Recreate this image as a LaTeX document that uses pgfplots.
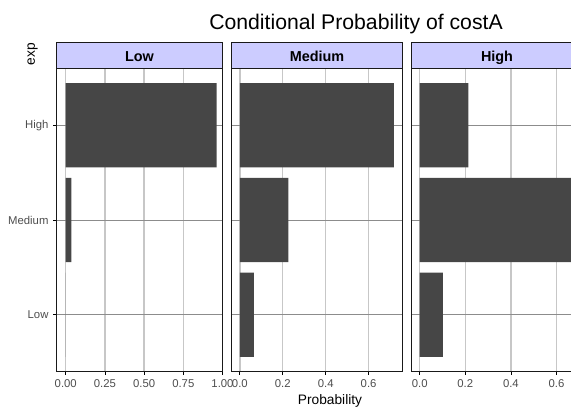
\documentclass[border=0pt]{standalone}
\usepackage{pgfplots}
\pgfplotsset{compat=1.18}
\usepackage{fontspec}
\setmainfont{Liberation Sans}
\definecolor{barc}{RGB}{70,70,70}
\definecolor{stripc}{RGB}{204,204,255}
\definecolor{tickc}{RGB}{77,77,77}
\pgfplotsset{
  panel/.style={
    scale only axis, height=227.25pt, anchor=south west,
    ymin=0.4, ymax=3.6, ytick={1,2,3},
    xbar, bar width=0.89, bar shift=0pt,
    xmajorgrids, ymajorgrids,
    x grid style={color=black!22, line width=1pt},
    y grid style={color=black!45, line width=0.5pt},
    axis line style={line width=1pt, color=black!90},
    tick style={color=black, line width=0.6pt},
    tick align=outside, major tick length=2.5pt,
    xtick pos=bottom, ytick pos=left,
    ticklabel style={font=\fontsize{8.5}{10}\selectfont, color=tickc},
    /pgf/number format/assume math mode=true,
  },
}
\begin{document}
\begin{tikzpicture}
% Panel 1: costA = Low
\begin{axis}[panel, name=p1, at={(42.375pt,26.625pt)}, width=124.5pt,
  xmin=-0.059, xmax=1.0,
  xtick={0,0.25,0.5,0.75,1}, xticklabels={0.00,0.25,0.50,0.75,1.00},
  yticklabels={Low,Medium,High}]
\addplot[fill=barc, draw=none] coordinates {(0,1) (0.036,2) (0.962,3)};
\end{axis}
% Panel 2: costA = Medium
\begin{axis}[panel, name=p2, at={(173.625pt,26.625pt)}, width=128.25pt,
  xmin=-0.039, xmax=0.758,
  xtick={0,0.2,0.4,0.6}, xticklabels={0.0,0.2,0.4,0.6},
  yticklabels={}, ytick style={draw=none}]
\addplot[fill=barc, draw=none] coordinates {(0.065,1) (0.226,2) (0.718,3)};
\end{axis}
% Panel 3: costA = High
\begin{axis}[panel, name=p3, at={(308.625pt,26.625pt)}, width=128.25pt,
  xmin=-0.036, xmax=0.714,
  xtick={0,0.2,0.4,0.6}, xticklabels={0.0,0.2,0.4,0.6},
  yticklabels={}, ytick style={draw=none}]
\addplot[fill=barc, draw=none] coordinates {(0.102,1) (0.685,2) (0.213,3)};
\end{axis}
% strips
\foreach \p/\t in {p1/Low,p2/Medium,p3/High}{
  \draw[fill=stripc, draw=black!90, line width=1pt] (\p.north west) rectangle ([yshift=19.5pt]\p.north east);
  \node[font=\bfseries\fontsize{10.8}{12}\selectfont, inner sep=0pt, anchor=base] at ([yshift=5.5pt]\p.north) {\t};
}
\node[font=\fontsize{15.9}{18}\selectfont, anchor=base] at (267pt,283.3pt) {Conditional Probability of costA};
\node[font=\fontsize{10.3}{12}\selectfont, rotate=90] at (24.4pt,264.8pt) {exp};
\node[font=\fontsize{10.3}{12}\selectfont, anchor=base] at (247.5pt,1.65pt) {Probability};
\pgfresetboundingbox
\path[use as bounding box] (0,0) rectangle (428.25pt,305.25pt);
\end{tikzpicture}
\end{document}
